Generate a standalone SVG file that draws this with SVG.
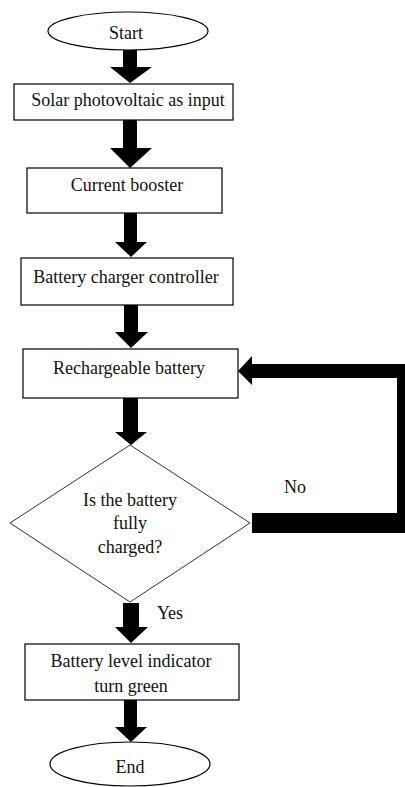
<svg xmlns="http://www.w3.org/2000/svg" width="405" height="787" viewBox="0 0 405 787">
<style>
.box{fill:#fff;stroke:#000;stroke-width:1.2}
.dia{fill:#fff;stroke:#333;stroke-width:1}
.t{font-family:"Liberation Serif","Times New Roman",serif;font-size:18px;fill:#111;text-anchor:middle}
.arr{fill:#000}
</style>
<rect width="405" height="787" fill="#fff"/>
<g id="connectors">
<polygon class="arr" points="123,50 137,50 137,67 152,67 130,83 110,67 123,67"/>
<polygon class="arr" points="123,120 137,120 137,148 152,148 130,168 110,148 123,148"/>
<polygon class="arr" points="124,213 137,213 137,242 147,242 131,257 115,242 124,242"/>
<polygon class="arr" points="124,305 138,305 138,332 148,332 131,348 115,332 124,332"/>
<polygon class="arr" points="123,398 138,398 138,432 147,432 131,445 115,432 123,432"/>
<polygon class="arr" points="123,603 139,603 139,627 148,627 131,643 115,627 123,627"/>
<polygon class="arr" points="124,700 137,700 137,727 147,727 131,742 115,727 124,727"/>
<polygon class="arr" points="252,513 397,513 397,378 252,378 252,385 238,371 252,356 252,364 411,364 411,533 252,533"/>
<text class="t" x="295" y="493">No</text>
<text class="t" x="170" y="619">Yes</text>
</g>
<g id="start">
<ellipse class="box" cx="128" cy="31" rx="80" ry="19"/>
<text class="t" x="126" y="39">Start</text>
</g>
<g id="solar">
<rect class="box" x="14" y="84" width="219" height="36"/>
<text class="t" x="128" y="106">Solar photovoltaic as input</text>
</g>
<g id="booster">
<rect class="box" x="27" y="168" width="195" height="45"/>
<text class="t" x="127" y="191">Current booster</text>
</g>
<g id="controller">
<rect class="box" x="21" y="258" width="212" height="47"/>
<text class="t" x="126" y="283">Battery charger controller</text>
</g>
<g id="battery">
<rect class="box" x="23" y="349" width="215" height="49"/>
<text class="t" x="129" y="374">Rechargeable battery</text>
</g>
<g id="decision">
<polygon class="dia" points="130,445 250,523 130,602 10,523"/>
<text class="t" x="130" y="506">Is the battery</text>
<text class="t" x="130" y="529">fully</text>
<text class="t" x="130" y="553">charged?</text>
</g>
<g id="indicator">
<rect class="box" x="25" y="644" width="214" height="56"/>
<text class="t" x="131" y="667">Battery level indicator</text>
<text class="t" x="131" y="692">turn green</text>
</g>
<g id="end">
<ellipse class="box" cx="130" cy="764" rx="80" ry="22"/>
<text class="t" x="130" y="773">End</text>
</g>
</svg>
